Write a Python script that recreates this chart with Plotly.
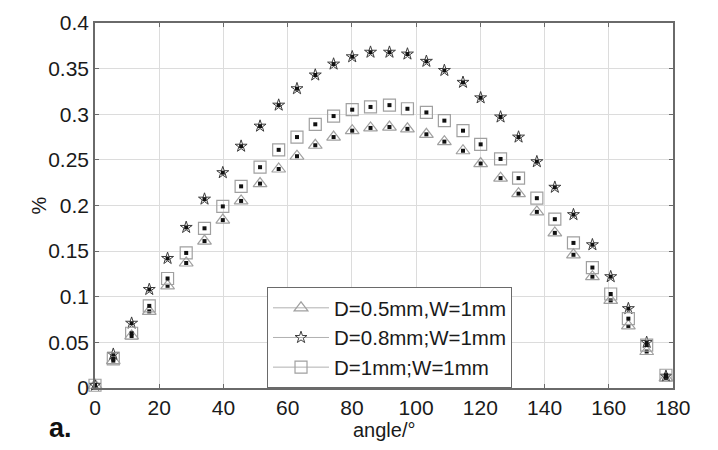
import plotly.graph_objects as go

angles = [0, 5.7, 11.4, 16.9, 22.6, 28.4, 34.1, 39.8, 45.5, 51.4, 57.2, 62.9, 68.6, 74.3,
          80.1, 85.8, 91.7, 97.3, 103.2, 108.8, 114.6, 120.1, 126.3, 131.9, 137.6, 143.2,
          149.0, 154.9, 160.6, 166.1, 171.8, 177.8]

d05_w1 = [0.003, 0.030, 0.057, 0.084, 0.112, 0.137, 0.161, 0.184, 0.205, 0.224, 0.240, 0.254,
          0.266, 0.275, 0.282, 0.285, 0.286, 0.284, 0.278, 0.270, 0.260, 0.246, 0.230, 0.213,
          0.193, 0.170, 0.146, 0.122, 0.096, 0.068, 0.040, 0.011]

d08_w1 = [0.003, 0.037, 0.071, 0.108, 0.142, 0.176, 0.207, 0.236, 0.265, 0.287, 0.310, 0.328,
          0.343, 0.355, 0.363, 0.368, 0.368, 0.366, 0.358, 0.348, 0.335, 0.318, 0.297, 0.275,
          0.248, 0.220, 0.190, 0.157, 0.122, 0.087, 0.050, 0.013]

d1_w1 = [0.003, 0.032, 0.060, 0.090, 0.120, 0.148, 0.175, 0.199, 0.221, 0.242, 0.261, 0.275,
         0.289, 0.298, 0.305, 0.308, 0.310, 0.306, 0.302, 0.293, 0.282, 0.267, 0.251, 0.230,
         0.208, 0.185, 0.159, 0.132, 0.103, 0.076, 0.047, 0.014]

labels = ["D=0.5mm,W=1mm", "D=0.8mm;W=1mm", "D=1mm;W=1mm"]
x_ticks = [0, 20, 40, 60, 80, 100, 120, 140, 160, 180]
y_ticks = [0, 0.05, 0.1, 0.15, 0.2, 0.25, 0.3, 0.35, 0.4]
y_tick_text = ["0", "0.05", "0.1", "0.15", "0.2", "0.25", "0.3", "0.35", "0.4"]

series = [
    (d05_w1, labels[0], "triangle-up-open", "#a0a0a0", 12, 1.2),
    (d08_w1, labels[1], "star-open", "#3c3c3c", 9, 1.0),
    (d1_w1, labels[2], "square-open", "#a0a0a0", 12, 1.2),
]

FONT = "Liberation Sans, Arial, Helvetica, sans-serif"
fig = go.Figure()

for vals, name, sym, col, size, lw in series:
    fig.add_trace(go.Scatter(
        x=angles, y=vals, mode="markers", showlegend=False,
        marker=dict(symbol=sym, size=size, color=col, line=dict(width=lw, color=col)),
        cliponaxis=False,
    ))
    fig.add_trace(go.Scatter(
        x=angles, y=vals, mode="markers", showlegend=False,
        marker=dict(symbol="square", size=4, color="#111111", line=dict(width=0)),
        cliponaxis=False,
    ))

for vals, name, sym, col, size, lw in series:
    fig.add_trace(go.Scatter(
        x=[None], y=[None], mode="lines+markers", name=name,
        line=dict(color="#b0b0b0", width=1),
        marker=dict(symbol=sym, size=size, color=col, line=dict(width=lw, color=col)),
    ))

axis_common = dict(
    showline=True, linecolor="#6a6a6a", linewidth=1.5, mirror="ticks",
    ticks="inside", ticklen=4, tickcolor="#6a6a6a",
    showgrid=True, gridcolor="#dcdcdc", gridwidth=1,
    zeroline=False, tickfont=dict(family=FONT, size=21, color="#1a1a1a"),
)

fig.update_xaxes(range=[0, 180], tickvals=x_ticks, **axis_common)
fig.update_yaxes(range=[0, 0.4], tickvals=y_ticks, ticktext=y_tick_text, **axis_common)

fig.update_layout(
    width=718, height=450,
    margin=dict(l=95, r=45, t=11, b=62),
    plot_bgcolor="white", paper_bgcolor="white",
    legend=dict(
        x=0.2976, y=0.0, xanchor="left", yanchor="bottom",
        bgcolor="white", bordercolor="#6a6a6a", borderwidth=1,
        font=dict(family=FONT, size=20.5, color="#1a1a1a"),
        itemwidth=56, tracegroupgap=0,
    ),
    annotations=[
        dict(text="<b>a.</b>", x=-0.083, y=-0.155, xref="paper", yref="paper",
             xanchor="left", yanchor="bottom", showarrow=False,
             font=dict(family=FONT, size=27, color="#111111")),
        dict(text="angle/°", x=0.5, y=-0.08, xref="paper", yref="paper",
             xanchor="center", yanchor="top", showarrow=False,
             font=dict(family=FONT, size=20, color="#1a1a1a")),
        dict(text="%", x=-0.0986, y=0.5, xref="paper", yref="paper", textangle=-90,
             xanchor="center", yanchor="middle", showarrow=False,
             font=dict(family=FONT, size=20, color="#1a1a1a")),
    ],
)

fig.write_html("out.html")
